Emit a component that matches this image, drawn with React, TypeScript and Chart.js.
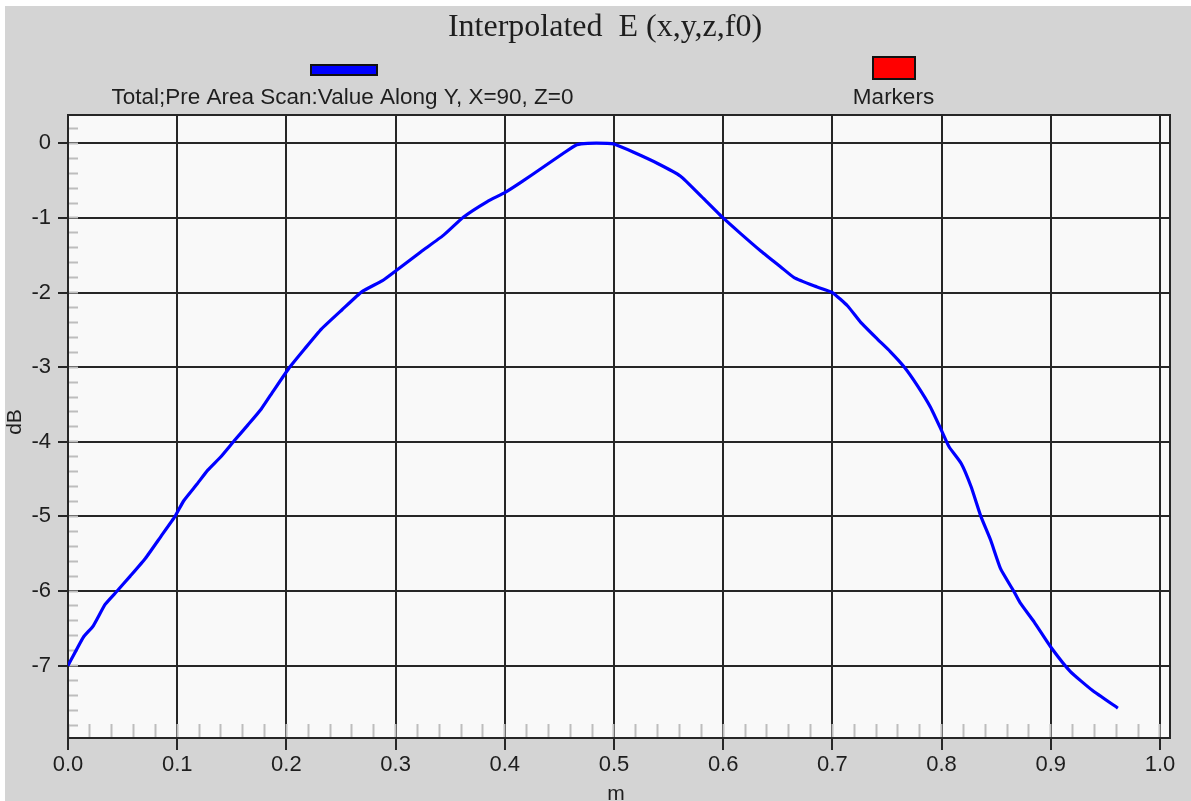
import React, { useEffect, useRef } from "react";
import { Chart, registerables } from "chart.js";

Chart.register(...registerables);

// ---- data ----
const titleText = "Interpolated  E (x,y,z,f0)";
const seriesLabel = "Total;Pre Area Scan:Value Along Y, X=90, Z=0";
const markersLabel = "Markers";
const xAxisTitle = "m";
const yAxisTitle = "dB";

const positionM = [
  0.0, 0.014, 0.023, 0.034, 0.045, 0.057, 0.071, 0.085, 0.098, 0.106, 0.118, 0.128,
  0.14, 0.152, 0.165, 0.177, 0.188, 0.202, 0.217, 0.232, 0.251, 0.269, 0.288, 0.3,
  0.323, 0.344, 0.362, 0.384, 0.4, 0.414, 0.436, 0.454, 0.466, 0.476, 0.494, 0.5,
  0.518, 0.54, 0.561, 0.58, 0.6, 0.616, 0.635, 0.653, 0.665, 0.683, 0.7, 0.714,
  0.726, 0.741, 0.753, 0.766, 0.778, 0.79, 0.8, 0.807, 0.818, 0.827, 0.836, 0.845,
  0.854, 0.866, 0.872, 0.885, 0.9, 0.918, 0.938, 0.9615,
];
const totalDb = [
  -7.0, -6.62, -6.47, -6.18, -6.0, -5.8, -5.56, -5.27, -5.0, -4.79, -4.57, -4.38,
  -4.2, -3.99, -3.77, -3.56, -3.32, -3.02, -2.75, -2.49, -2.23, -1.99, -1.84, -1.71,
  -1.455, -1.23, -0.99, -0.78, -0.66, -0.53, -0.31, -0.13, -0.02, 0.0, 0.0, -0.01,
  -0.12, -0.27, -0.44, -0.71, -1.0, -1.21, -1.45, -1.66, -1.8, -1.91, -2.0, -2.18,
  -2.4, -2.62, -2.79, -3.0, -3.25, -3.54, -3.85, -4.07, -4.29, -4.6, -5.0, -5.32,
  -5.7, -6.0, -6.16, -6.42, -6.75, -7.08, -7.33, -7.57,
];
const markerPositions: number[] = [];
const markerDb: number[] = [];

const xMin = 0;
const xMax = 1.0092;
const xMajorStep = 0.1;
const xMinorStep = 0.02;
const yMin = -7.97;
const yMax = 0.38;
const yMajorStep = 1;
const yMinorStep = 0.2;

const GRID = "#262626";
const TEXT = "#1e1e1e";
const SANS = "'Liberation Sans', Arial, sans-serif";
const SERIF = "'Liberation Serif', 'Times New Roman', serif";

const decorPlugin = {
  id: "decor",
  beforeDraw(chart: any) {
    const { ctx, width, height, chartArea } = chart;
    ctx.save();
    ctx.fillStyle = "#ffffff";
    ctx.fillRect(0, 0, width, height);
    ctx.fillStyle = "#d4d4d4";
    ctx.fillRect(5, 6, width - 5, height - 6);
    ctx.fillStyle = "#f9f9f9";
    ctx.fillRect(chartArea.left, chartArea.top, chartArea.right - chartArea.left, chartArea.bottom - chartArea.top);
    ctx.restore();
  },
  beforeDatasetsDraw(chart: any) {
    const { ctx, chartArea } = chart;
    ctx.save();
    ctx.strokeStyle = GRID;
    ctx.lineWidth = 2;
    ctx.strokeRect(chartArea.left, chartArea.top, chartArea.right - chartArea.left, chartArea.bottom - chartArea.top);
    ctx.restore();
  },
  afterDraw(chart: any) {
    const { ctx, chartArea } = chart;
    const ds = chart.data.datasets;
    ctx.save();
    // title
    ctx.fillStyle = TEXT;
    ctx.font = `32px ${SERIF}`;
    ctx.textAlign = "center";
    ctx.textBaseline = "alphabetic";
    ctx.fillText(titleText, 605, 36);

    // legend
    ctx.font = `22.5px ${SANS}`;
    ctx.lineWidth = 2;
    ctx.strokeStyle = "#111";
    // series 1 (line)
    ctx.fillStyle = ds[0].borderColor;
    ctx.fillRect(311, 65, 66, 10);
    ctx.strokeRect(311, 65, 66, 10);
    ctx.fillStyle = TEXT;
    ctx.fillText(ds[0].label, 342.5, 104);
    // markers
    ctx.fillStyle = ds[1].backgroundColor;
    ctx.fillRect(873, 57, 42, 22);
    ctx.strokeRect(873, 57, 42, 22);
    ctx.fillStyle = TEXT;
    ctx.fillText(ds[1].label, 893.5, 104);

    // axis titles
    ctx.font = `21px ${SANS}`;
    ctx.fillText(xAxisTitle, (chartArea.left + chartArea.right) / 2 - 3, 800);
    ctx.translate(15, 422);
    ctx.rotate(-Math.PI / 2);
    ctx.textBaseline = "middle";
    ctx.fillText(yAxisTitle, 0, 0);
    ctx.restore();
  },
};

export default function App() {
  const ref = useRef<HTMLCanvasElement | null>(null);

  useEffect(() => {
    if (!ref.current) return;
    const chart = new Chart(ref.current, {
      type: "line",
      data: {
        datasets: [
          {
            label: seriesLabel,
            data: positionM.map((x, i) => ({ x, y: totalDb[i] })),
            borderColor: "#0000ff",
            backgroundColor: "#0000ff",
            borderWidth: 3.2,
            pointRadius: 0,
            tension: 0.15,
            fill: false,
            xAxisID: "x",
            yAxisID: "y",
          },
          {
            label: markersLabel,
            data: markerPositions.map((x, i) => ({ x, y: markerDb[i] })),
            borderColor: "#ff0000",
            backgroundColor: "#ff0000",
            showLine: false,
            pointRadius: 5,
            xAxisID: "x",
            yAxisID: "y",
          },
        ],
      },
      options: {
        animation: false,
        responsive: false,
        maintainAspectRatio: false,
        layout: { padding: { left: 0, right: 21, top: 115, bottom: 0 } },
        plugins: {
          legend: { display: false },
          title: { display: false },
          tooltip: { enabled: false },
        },
        scales: {
          x: {
            type: "linear",
            position: "bottom",
            weight: 1,
            min: xMin,
            max: xMax,
            afterFit: (s: any) => {
              s.height = 63;
            },
            ticks: {
              stepSize: xMajorStep,
              includeBounds: false,
              maxRotation: 0,
              autoSkip: false,
              padding: 2,
              color: TEXT,
              font: { family: SANS, size: 22 },
              callback: (v: any) => Number(v).toFixed(1),
            },
            grid: { color: GRID, lineWidth: 2, tickLength: 12, tickColor: GRID, tickWidth: 2 },
            border: { display: true, color: GRID, width: 2 },
          },
          xMinor: {
            type: "linear",
            position: "bottom",
            weight: 0,
            min: xMin,
            max: xMax,
            afterFit: (s: any) => {
              s.height = 0;
            },
            ticks: { stepSize: xMinorStep, includeBounds: false, display: false, autoSkip: false },
            grid: { drawOnChartArea: false, drawTicks: true, tickLength: -14, tickColor: "#bdbdbd", tickWidth: 2 },
            border: { display: false },
          },
          y: {
            type: "linear",
            position: "left",
            weight: 1,
            min: yMin,
            max: yMax,
            afterFit: (s: any) => {
              s.width = 68;
            },
            ticks: {
              stepSize: yMajorStep,
              includeBounds: false,
              padding: 7,
              color: TEXT,
              font: { family: SANS, size: 22 },
              callback: (v: any) => String(Math.round(Number(v))),
            },
            grid: { color: GRID, lineWidth: 2, tickLength: 10, tickColor: GRID, tickWidth: 2 },
            border: { display: true, color: GRID, width: 2 },
          },
          yMinor: {
            type: "linear",
            position: "left",
            weight: 0,
            min: yMin,
            max: yMax,
            afterFit: (s: any) => {
              s.width = 0;
            },
            ticks: { stepSize: yMinorStep, includeBounds: false, display: false, autoSkip: false },
            grid: { drawOnChartArea: false, drawTicks: true, tickLength: -10, tickColor: "#bdbdbd", tickWidth: 2 },
            border: { display: false },
          },
        },
      } as any,
      plugins: [decorPlugin],
    });
    return () => chart.destroy();
  }, []);

  return (
    <div style={{ position: "fixed", left: 0, top: 0, width: 1191, height: 801, background: "#fff" }}>
      <canvas ref={ref} width={1191} height={801} style={{ width: 1191, height: 801, display: "block" }} />
    </div>
  );
}
